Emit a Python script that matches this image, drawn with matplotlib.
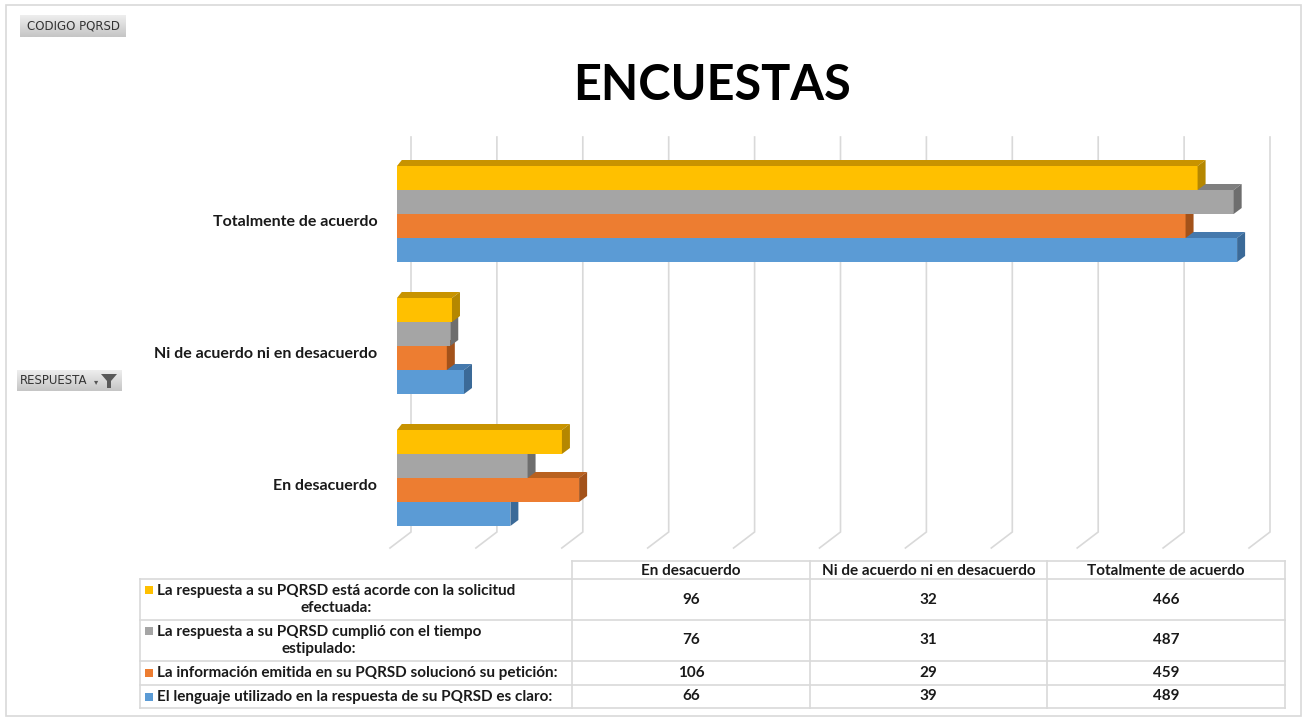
import matplotlib
matplotlib.use('Agg')
import matplotlib.pyplot as plt
from matplotlib.patches import Polygon, Rectangle
from matplotlib.lines import Line2D
import numpy as np

# Data

categories = ["En desacuerdo", "Ni de acuerdo ni en desacuerdo", "Totalmente de acuerdo"]
table_cols = ["En desacuerdo", "Ni de acuerdo ni en desacuerdo", "Totalmente de acuerdo"]
series_names = [
    "La respuesta a su PQRSD está acorde con la solicitud\nefectuada:",
    "La respuesta a su PQRSD cumplió con el tiempo\nestipulado:",
    "La información emitida en su PQRSD solucionó su petición:",
    "El lenguaje utilizado en la respuesta de su PQRSD es claro:",
]
# values per series, in category order (En desacuerdo, Ni..., Totalmente)
acorde = [96, 32, 466]
tiempo = [76, 31, 487]
solucion = [106, 29, 459]
lenguaje = [66, 39, 489]
series_values = [acorde, tiempo, solucion, lenguaje]
xticks = np.arange(0, 501, 50)

front_colors = ["#FFC000", "#A5A5A5", "#ED7D31", "#5B9BD5"]
top_colors = ["#C89300", "#7F7F7F", "#B9611F", "#4579AD"]
side_colors = ["#B58700", "#6E6E6E", "#A3521A", "#3B6A98"]

W, H = 1304, 720
FONT = "Lato"

fig = plt.figure(figsize=(W / 100, H / 100), dpi=100)


def fx(p):
    return p / W


def fy(p):
    return 1 - p / H


# outer frame
fig.add_artist(Rectangle((fx(6), fy(716)), fx(1295), 711 / H, transform=fig.transFigure,
                         fill=False, edgecolor="#D9D9D9", linewidth=1.2))

# plot area (pixel layout of the original: 0 at x=397, 1.718 px per unit, 132 px per category)
X0, XS, YC, YS = 397, 1.718, 478, 132
AX_L, AX_R, AX_T, AX_B = 385, 1300, 130, 555
ax = fig.add_axes([fx(AX_L), fy(AX_B), fx(AX_R - AX_L), (AX_B - AX_T) / H])
ax.set_xlim((AX_L - X0) / XS, (AX_R - X0) / XS)
ax.set_ylim((YC - AX_B) / YS, (YC - AX_T) / YS)
for s in ax.spines.values():
    s.set_visible(False)
ax.set_xticks([])
y = np.arange(len(categories))
ax.set_yticks(y - 6 / YS)
ax.set_yticklabels(categories, fontsize=11.5, fontweight="bold", family=FONT, color="#1A1A1A")
ax.tick_params(axis="y", length=0, pad=5.5)

# back wall gridlines with floor slant
wall_dx = 14 / XS
floor_dx = -21 / XS
y_top = (YC - 137) / YS
y_bot = (YC - 532) / YS
y_floor = (YC - 548) / YS
for v in xticks:
    ax.plot([v + wall_dx, v + wall_dx, v + wall_dx + floor_dx],
            [y_top, y_bot, y_floor], color="#D9D9D9", linewidth=1.2, zorder=1,
            solid_joinstyle="miter", clip_on=False)

# 3D bars
h = 24 / YS
ddx = 8 / XS
ddy = 6 / YS
offsets = [1.5 * h, 0.5 * h, -0.5 * h, -1.5 * h]
for j, k in enumerate([3, 2, 1, 0]):
    z = 3 + j
    vals = series_values[k]
    yy = y + offsets[k]
    ax.barh(yy, vals, height=h, color=front_colors[k], zorder=z, linewidth=0)
    for v, yc in zip(vals, yy):
        b, t = yc - h / 2, yc + h / 2
        ax.add_patch(Polygon([(0, t), (v, t), (v + ddx, t + ddy), (ddx * 0.6, t + ddy)],
                             closed=True, facecolor=top_colors[k], linewidth=0, zorder=z))
        ax.add_patch(Polygon([(v, b), (v, t), (v + ddx, t + ddy), (v + ddx, b + ddy)],
                             closed=True, facecolor=side_colors[k], linewidth=0, zorder=z))

# title
fig.text(fx(712), fy(85), "ENCUESTAS", ha="center", va="center", fontsize=35,
         fontweight="bold", family=FONT, color="black")


# field buttons
def button(x0, y0, x1, y1):
    grad = np.linspace(0, 1, 20).reshape(-1, 1)
    bax = fig.add_axes([fx(x0), fy(y1), fx(x1 - x0), (y1 - y0) / H])
    bax.imshow(grad, aspect="auto", cmap=matplotlib.colors.LinearSegmentedColormap.from_list(
        "g", ["#EDEDED", "#C6C6C6"]), extent=(0, 1, 0, 1))
    bax.set_axis_off()
    return bax


button(20, 15, 126, 37)
fig.text(fx(27), fy(26), "CODIGO PQRSD", ha="left", va="center", fontsize=8.5,
         family="DejaVu Sans", color="#333333")
button(17, 370, 122, 391)
fig.text(fx(20), fy(380.5), "RESPUESTA", ha="left", va="center", fontsize=8.5,
         family="DejaVu Sans", color="#333333")
fig.text(fx(96), fy(382), "▾", ha="center", va="center", fontsize=6, color="#555555")
fig.add_artist(Polygon([(fx(101), fy(374)), (fx(117), fy(374)), (fx(111), fy(381)),
                        (fx(111), fy(388)), (fx(107), fy(388)), (fx(107), fy(381))],
                       closed=True, transform=fig.transFigure, facecolor="#5A5A5A",
                       edgecolor="none"))

# data table
col_x = [140, 572, 810, 1047, 1285]
row_y = [561, 579, 620, 661, 685, 708]
gc = "#D9D9D9"


def hline(yp, x0, x1):
    fig.add_artist(Line2D([fx(x0), fx(x1)], [fy(yp), fy(yp)], color=gc, linewidth=1.2))


def vline(xp, y0, y1):
    fig.add_artist(Line2D([fx(xp), fx(xp)], [fy(y0), fy(y1)], color=gc, linewidth=1.2))


hline(row_y[0], col_x[1], col_x[-1])
for yp in row_y[1:]:
    hline(yp, col_x[0], col_x[-1])
vline(col_x[0], row_y[1], row_y[-1])
for xp in col_x[1:]:
    vline(xp, row_y[0], row_y[-1])

tfs = 11
for c, name in enumerate(table_cols):
    fig.text(fx((col_x[c + 1] + col_x[c + 2]) / 2), fy((row_y[0] + row_y[1]) / 2 + 1), name,
             ha="center", va="center", fontsize=tfs, family=FONT, fontweight="bold",
             color="#1A1A1A")

for r, name in enumerate(series_names):
    yc = (row_y[r + 1] + row_y[r + 2]) / 2
    fig.text(fx(157), fy(yc), name, ha="left", va="center", fontsize=tfs, family=FONT,
             fontweight="bold", color="#1A1A1A", multialignment="center", linespacing=1.2)
    ym = yc - 9.5 if "\n" in name else yc
    fig.add_artist(Rectangle((fx(145), fy(ym + 4)), fx(8), 8 / H, transform=fig.transFigure,
                             facecolor=front_colors[r], edgecolor="none"))
    for c in range(len(table_cols)):
        fig.text(fx((col_x[c + 1] + col_x[c + 2]) / 2), fy(yc), str(series_values[r][c]),
                 ha="center", va="center", fontsize=tfs, family=FONT, fontweight="bold",
                 color="#1A1A1A")

fig.savefig("out.png", dpi=100)
